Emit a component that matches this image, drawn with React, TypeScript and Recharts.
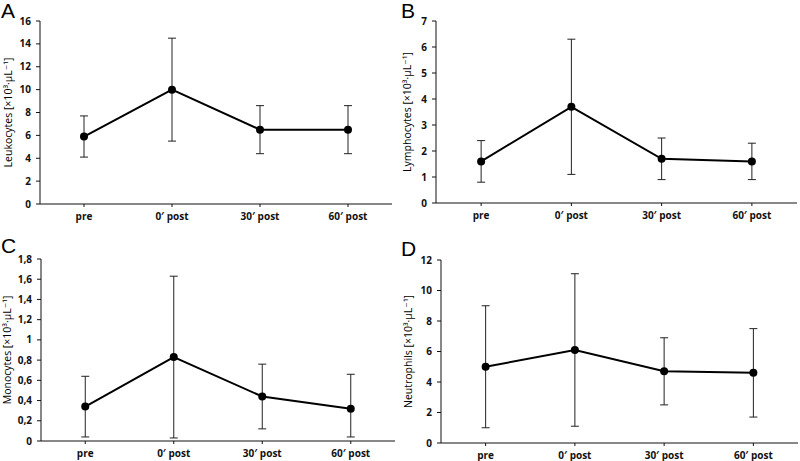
import React from "react";
import { LineChart, Line, XAxis, YAxis, ErrorBar } from "recharts";

const categories = ["pre", "0′ post", "30′ post", "60′ post"];

// means and SD limits
const leukoMean = [5.9, 10.0, 6.5, 6.5];
const leukoLow = [4.1, 5.5, 4.4, 4.4];
const leukoHigh = [7.7, 14.5, 8.6, 8.6];

const lymphoMean = [1.6, 3.7, 1.7, 1.6];
const lymphoLow = [0.8, 1.1, 0.9, 0.9];
const lymphoHigh = [2.4, 6.3, 2.5, 2.3];

const monoMean = [0.34, 0.83, 0.44, 0.32];
const monoLow = [0.04, 0.03, 0.12, 0.04];
const monoHigh = [0.64, 1.63, 0.76, 0.66];

const neutroMean = [5.0, 6.1, 4.7, 4.6];
const neutroLow = [1.0, 1.1, 2.5, 1.7];
const neutroHigh = [9.0, 11.1, 6.9, 7.5];

const leukoTicks = [0, 2, 4, 6, 8, 10, 12, 14, 16];
const lymphoTicks = [0, 1, 2, 3, 4, 5, 6, 7];
const monoTicks = [0, 0.2, 0.4, 0.6, 0.8, 1, 1.2, 1.4, 1.6, 1.8];
const neutroTicks = [0, 2, 4, 6, 8, 10, 12];

const FONT = "'Open Sans', 'DejaVu Sans', sans-serif";
const INK = "#111";

const buildRows = (mean: number[], low: number[], high: number[]) =>
  categories.map((cat, i) => ({
    cat,
    value: mean[i],
    err: [mean[i] - low[i], high[i] - mean[i]],
  }));

const fmt = (v: number) => String(Math.round(v * 10) / 10).replace(".", ",");

const AxisTitle = ({ viewBox, text, x }: any) => {
  const cy = viewBox.y + viewBox.height / 2;
  return (
    <text
      x={x}
      y={cy}
      transform={`rotate(-90, ${x}, ${cy})`}
      textAnchor="middle"
      dominantBaseline="central"
      fontFamily={FONT}
      fontSize={10.5}
      fill="#000"
    >
      {text}
    </text>
  );
};

type PanelProps = {
  letter: string;
  letterTop: number;
  left: number;
  top: number;
  height: number;
  margin: { top: number; right: number; bottom: number; left: number };
  yWidth: number;
  xHeight: number;
  titleX: number;
  title: string;
  rows: any[];
  ticks: number[];
};

const Panel = (p: PanelProps) => (
  <div style={{ position: "absolute", left: p.left, top: p.top, width: 400, height: p.height }}>
    <div
      style={{
        position: "absolute",
        left: 1,
        top: p.letterTop,
        fontFamily: "'Liberation Sans', Arial, sans-serif",
        fontSize: 21,
        lineHeight: "21px",
        color: "#000",
      }}
    >
      {p.letter}
    </div>
    <LineChart width={400} height={p.height} data={p.rows} margin={p.margin}>
      <XAxis
        dataKey="cat"
        scale="band"
        height={p.xHeight}
        stroke={INK}
        tickSize={3}
        tickMargin={6}
        tick={{ fontFamily: FONT, fontSize: 10, fontWeight: 700, fill: INK }}
      />
      <YAxis
        width={p.yWidth}
        domain={[p.ticks[0], p.ticks[p.ticks.length - 1]]}
        ticks={p.ticks}
        interval={0}
        stroke={INK}
        tickSize={4}
        tickMargin={5}
        tickFormatter={fmt}
        tick={{ fontFamily: FONT, fontSize: 10, fontWeight: 700, fill: INK }}
        label={(props: any) => <AxisTitle {...props} text={p.title} x={p.titleX} />}
      />
      <Line
        dataKey="value"
        stroke="#000"
        strokeWidth={2}
        dot={{ r: 4, fill: "#000", stroke: "#000", strokeWidth: 0 }}
        isAnimationActive={false}
      >
        <ErrorBar dataKey="err" direction="y" width={4} stroke="#222" strokeWidth={1} />
      </Line>
    </LineChart>
  </div>
);

export default function App() {
  return (
    <div style={{ position: "absolute", left: 0, top: 0, width: 800, height: 461, background: "#fff" }}>
      <Panel
        letter="A"
        letterTop={0}
        left={0}
        top={0}
        height={230}
        margin={{ top: 21, right: 8, bottom: 6, left: 0 }}
        yWidth={40}
        xHeight={20}
        titleX={8}
        title="Leukocytes [×10³·µL⁻¹]"
        rows={buildRows(leukoMean, leukoLow, leukoHigh)}
        ticks={leukoTicks}
      />
      <Panel
        letter="B"
        letterTop={0}
        left={400}
        top={0}
        height={230}
        margin={{ top: 21, right: 3, bottom: 7, left: 0 }}
        yWidth={36}
        xHeight={20}
        titleX={7}
        title="Lymphocytes [×10³·µL⁻¹]"
        rows={buildRows(lymphoMean, lymphoLow, lymphoHigh)}
        ticks={lymphoTicks}
      />
      <Panel
        letter="C"
        letterTop={5}
        left={0}
        top={230}
        height={231}
        margin={{ top: 29, right: 5, bottom: 0, left: 0 }}
        yWidth={41}
        xHeight={20}
        titleX={7}
        title="Monocytes [×10³·µL⁻¹]"
        rows={buildRows(monoMean, monoLow, monoHigh)}
        ticks={monoTicks}
      />
      <Panel
        letter="D"
        letterTop={8}
        left={400}
        top={230}
        height={231}
        margin={{ top: 30, right: 2, bottom: 0, left: 0 }}
        yWidth={41}
        xHeight={18}
        titleX={8}
        title="Neutrophils [×10³·µL⁻¹]"
        rows={buildRows(neutroMean, neutroLow, neutroHigh)}
        ticks={neutroTicks}
      />
    </div>
  );
}
